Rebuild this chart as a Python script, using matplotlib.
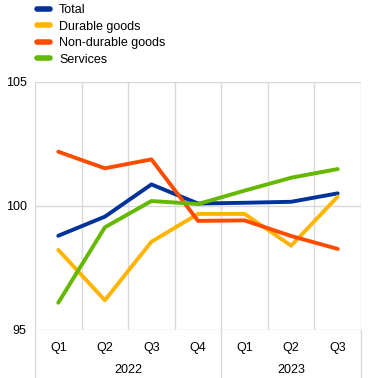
import matplotlib
matplotlib.use('Agg')
import matplotlib.pyplot as plt
from matplotlib.ticker import FixedLocator

quarters = ['Q1', 'Q2', 'Q3', 'Q4', 'Q1', 'Q2', 'Q3']
years = ['2022', '2023']
year_spans = [(0, 3), (4, 6)]

total = [98.8, 99.57, 100.87, 100.1, 100.13, 100.17, 100.51]
durable = [98.23, 96.2, 98.56, 99.68, 99.68, 98.4, 100.38]
non_durable = [102.19, 101.52, 101.88, 99.4, 99.42, 98.79, 98.27]
services = [96.1, 99.14, 100.2, 100.08, 100.62, 101.14, 101.49]

series = [
    ('Total', total, '#003299'),
    ('Durable goods', durable, '#ffb400'),
    ('Non-durable goods', non_durable, '#ff4b00'),
    ('Services', services, '#65b800'),
]

grid_col = '#d9d9d9'
plt.rcParams['font.family'] = ['Liberation Sans', 'DejaVu Sans']

fig = plt.figure(figsize=(3.72, 3.78), dpi=100)
ax = fig.add_axes([35 / 372, 48 / 378, 326 / 372, 248 / 378])

x = list(range(len(quarters)))
for name, vals, col in series:
    ax.plot(x, vals, color=col, lw=2.8, label=name, solid_capstyle='round', zorder=3)

ax.set_xlim(-0.5, len(quarters) - 0.5)
ax.set_ylim(95, 105)
ax.set_yticks([95, 100, 105])
ax.set_xticks(x)
ax.set_xticklabels(quarters)
ax.xaxis.set_minor_locator(FixedLocator([i - 0.5 for i in range(len(quarters) + 1)]))
ax.grid(axis='x', which='minor', color=grid_col, lw=1)
ax.grid(axis='y', which='major', color=grid_col, lw=1)
ax.tick_params(axis='both', which='both', length=0, labelsize=9, colors='black')
ax.tick_params(axis='x', pad=9)
ax.tick_params(axis='y', pad=6)
for s in ax.spines.values():
    s.set_visible(False)

# year dividers below the axis
trans = ax.get_xaxis_transform()
for b in [-0.5, 3.5, 6.5]:
    ax.plot([b, b], [0, -0.19], color=grid_col, lw=1, transform=trans, clip_on=False)
for yr, (a, b) in zip(years, year_spans):
    ax.text((a + b) / 2, -0.16, yr, transform=trans, ha='center', va='center', fontsize=9)

leg = fig.legend(loc='upper left', bbox_to_anchor=(0.07, 1.018), frameon=False, fontsize=9,
                 handlelength=1.0, handletextpad=0.75, labelspacing=0.35)
for h in leg.get_lines():
    h.set_linewidth(4)

fig.savefig('out.png', dpi=100)
